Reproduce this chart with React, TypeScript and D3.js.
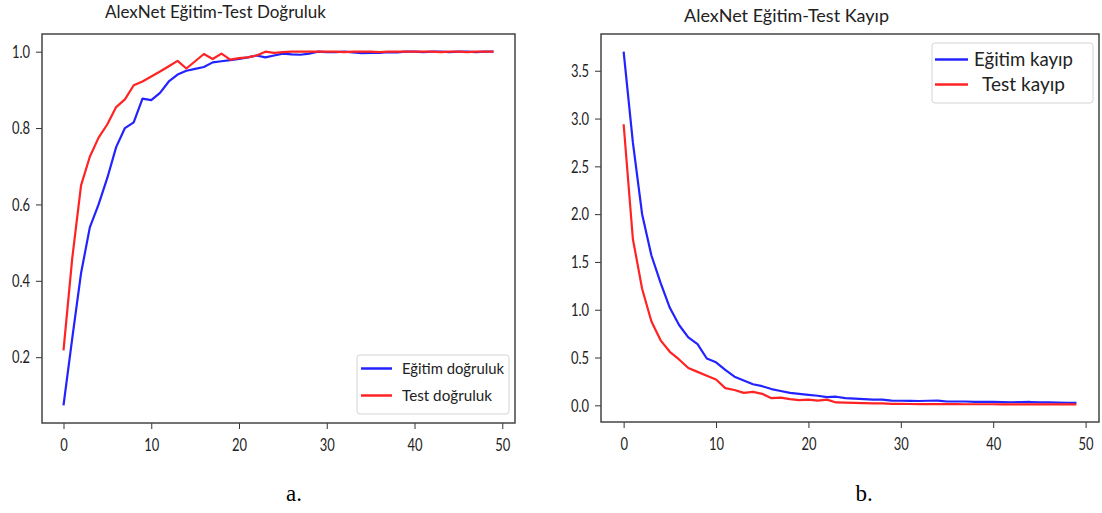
import React, { useEffect, useRef } from "react";
import * as d3 from "d3";

// epochs 0..49
const epochs = d3.range(50);
const xTicks = [0, 10, 20, 30, 40, 50];

const accTrain = [
  0.074, 0.25, 0.42, 0.54, 0.60, 0.67, 0.75, 0.80, 0.815, 0.877,
  0.873, 0.892, 0.922, 0.94, 0.95, 0.955, 0.96, 0.972, 0.975, 0.978,
  0.981, 0.985, 0.99, 0.985, 0.99, 0.995, 0.993, 0.992, 0.995, 1.0,
  0.999, 0.999, 1.0, 0.998, 0.996, 0.997, 0.997, 0.999, 0.998, 1.0,
  1.0, 0.999, 1.0, 1.0, 0.999, 1.0, 1.0, 0.999, 1.0, 1.0,
];
const accTest = [
  0.218, 0.46, 0.65, 0.725, 0.775, 0.81, 0.855, 0.875, 0.912, 0.922,
  0.935, 0.948, 0.962, 0.976, 0.956, 0.975, 0.994, 0.981, 0.995, 0.979,
  0.983, 0.985, 0.99, 1.0, 0.997, 0.999, 1.0, 1.0, 1.0, 1.0,
  1.0, 1.0, 0.999, 1.0, 1.0, 1.0, 0.999, 1.0, 1.0, 1.0,
  1.0, 1.0, 1.0, 0.999, 1.0, 1.0, 0.999, 1.0, 1.0, 1.0,
];
const lossTrain = [
  3.70, 2.75, 2.0, 1.57, 1.28, 1.02, 0.84, 0.71, 0.64, 0.49,
  0.45, 0.37, 0.30, 0.26, 0.22, 0.20, 0.17, 0.15, 0.13, 0.12,
  0.11, 0.10, 0.085, 0.09, 0.075, 0.07, 0.065, 0.06, 0.06, 0.05,
  0.048, 0.046, 0.045, 0.048, 0.05, 0.04, 0.04, 0.04, 0.037, 0.035,
  0.035, 0.033, 0.032, 0.033, 0.035, 0.03, 0.03, 0.028, 0.027, 0.025,
];
const lossTest = [
  2.94, 1.74, 1.22, 0.88, 0.68, 0.56, 0.48, 0.39, 0.35, 0.31,
  0.27, 0.18, 0.16, 0.13, 0.14, 0.12, 0.075, 0.08, 0.065, 0.055,
  0.06, 0.05, 0.06, 0.03, 0.028, 0.025, 0.022, 0.02, 0.02, 0.016,
  0.015, 0.014, 0.013, 0.013, 0.012, 0.012, 0.012, 0.011, 0.011, 0.011,
  0.011, 0.01, 0.01, 0.01, 0.01, 0.01, 0.01, 0.01, 0.01, 0.01,
];

const accTicks = [0.2, 0.4, 0.6, 0.8, 1.0];
const lossTicks = [0.0, 0.5, 1.0, 1.5, 2.0, 2.5, 3.0, 3.5];

const BLUE = "#2323ff";
const RED = "#ff2323";
const FONT = "Lato, 'Open Sans', sans-serif";
const SQUASH = 0.72;

function drawPanel(root: any, p: any) {
  const all = p.series.flatMap((s: any) => s.values);
  const lo = d3.min(all) as number, hi = d3.max(all) as number;
  const pad = (hi - lo) * 0.05;
  const x = d3.scaleLinear().domain([-2.45, 51.45]).range([p.left, p.right]);
  const y = d3.scaleLinear().domain([lo - pad, hi + pad]).range([p.bottom, p.top]);

  const g = root.append("g");

  const line = d3.line<number>()
    .x((_, i) => x(epochs[i]))
    .y(d => y(d));

  p.series.forEach((s: any) => {
    g.append("path")
      .datum(s.values)
      .attr("fill", "none")
      .attr("stroke", s.color)
      .attr("stroke-width", 2.2)
      .attr("stroke-linejoin", "round")
      .attr("d", line);
  });

  // x axis
  const xa = g.append("g")
    .attr("transform", "translate(0," + p.bottom + ")")
    .call(d3.axisBottom(x).tickValues(xTicks).tickSize(6).tickPadding(9).tickFormat(d3.format("d")));
  xa.select(".domain").remove();
  xa.selectAll("line").attr("stroke", "#333");
  xa.selectAll("text")
    .attr("fill", "#222")
    .attr("font-size", 18)
    .attr("font-family", FONT)
    .attr("transform", "scale(" + SQUASH + ",1)");

  // y axis
  const ya = g.append("g")
    .attr("transform", "translate(" + p.left + ",0)")
    .call(d3.axisLeft(y).tickValues(p.yTicks).tickSize(6).tickFormat(d3.format(".1f")));
  ya.select(".domain").remove();
  ya.selectAll("line").attr("stroke", "#333");
  ya.selectAll("text")
    .attr("x", 0)
    .attr("fill", "#222")
    .attr("font-size", 18)
    .attr("font-family", FONT)
    .attr("transform", "translate(-12,0) scale(" + SQUASH + ",1)");

  // frame
  g.append("rect")
    .attr("x", p.left)
    .attr("y", p.top)
    .attr("width", p.right - p.left)
    .attr("height", p.bottom - p.top)
    .attr("fill", "none")
    .attr("stroke", "#444")
    .attr("stroke-width", 1.5);

  // title
  g.append("text")
    .attr("x", p.title.x)
    .attr("y", p.title.y)
    .attr("font-size", 17)
    .attr("font-family", FONT)
    .attr("fill", "#222")
    .attr("textLength", p.title.w)
    .attr("lengthAdjust", "spacingAndGlyphs")
    .text(p.title.text);

  // legend
  const L = p.legend;
  g.append("rect")
    .attr("x", L.x).attr("y", L.y)
    .attr("width", L.w).attr("height", L.h)
    .attr("rx", 3)
    .attr("fill", "white")
    .attr("stroke", "#d4d4d4");
  L.items.forEach((it: any, i: number) => {
    const cy = L.firstY + i * L.step;
    g.append("line")
      .attr("x1", L.lineX).attr("x2", L.lineX + L.lineW)
      .attr("y1", cy).attr("y2", cy)
      .attr("stroke", p.series[i].color)
      .attr("stroke-width", 2.5);
    g.append("text")
      .attr("x", it.x)
      .attr("y", cy + L.fontSize * 0.36)
      .attr("font-size", L.fontSize)
      .attr("font-family", FONT)
      .attr("fill", "#222")
      .attr("textLength", it.w)
      .attr("lengthAdjust", "spacingAndGlyphs")
      .text(it.label);
  });
}

export default function App() {
  const ref = useRef<SVGSVGElement>(null);

  useEffect(() => {
    const svg = d3.select(ref.current);
    svg.selectAll("*").remove();

    drawPanel(svg, {
      left: 42, right: 515, top: 34, bottom: 423,
      yTicks: accTicks,
      series: [
        { values: accTrain, color: BLUE },
        { values: accTest, color: RED },
      ],
      title: { text: "AlexNet Eğitim-Test Doğruluk", x: 105, y: 18, w: 221 },
      legend: {
        x: 357, y: 355, w: 152, h: 59, fontSize: 16,
        firstY: 368.5, step: 27, lineX: 361, lineW: 31,
        items: [
          { label: "Eğitim doğruluk", x: 402, w: 102 },
          { label: "Test doğruluk", x: 402, w: 90 },
        ],
      },
    });

    drawPanel(svg, {
      left: 601, right: 1099, top: 34, bottom: 422,
      yTicks: lossTicks,
      series: [
        { values: lossTrain, color: BLUE },
        { values: lossTest, color: RED },
      ],
      title: { text: "AlexNet Eğitim-Test Kayıp", x: 684, y: 22, w: 205 },
      legend: {
        x: 932, y: 43, w: 161, h: 60, fontSize: 19,
        firstY: 59.5, step: 25, lineX: 935, lineW: 33,
        items: [
          { label: "Eğitim kayıp", x: 974, w: 99 },
          { label: "Test kayıp", x: 982, w: 83 },
        ],
      },
    });

    svg.append("text")
      .attr("x", 294).attr("y", 501)
      .attr("text-anchor", "middle")
      .attr("font-family", "'Liberation Serif', 'Times New Roman', serif")
      .attr("font-size", 23)
      .text("a.");
    svg.append("text")
      .attr("x", 864).attr("y", 501)
      .attr("text-anchor", "middle")
      .attr("font-family", "'Liberation Serif', 'Times New Roman', serif")
      .attr("font-size", 23)
      .text("b.");
  }, []);

  return (
    <svg
      ref={ref}
      width={1102}
      height={513}
      style={{ position: "absolute", left: 0, top: 0, background: "white" }}
    />
  );
}
